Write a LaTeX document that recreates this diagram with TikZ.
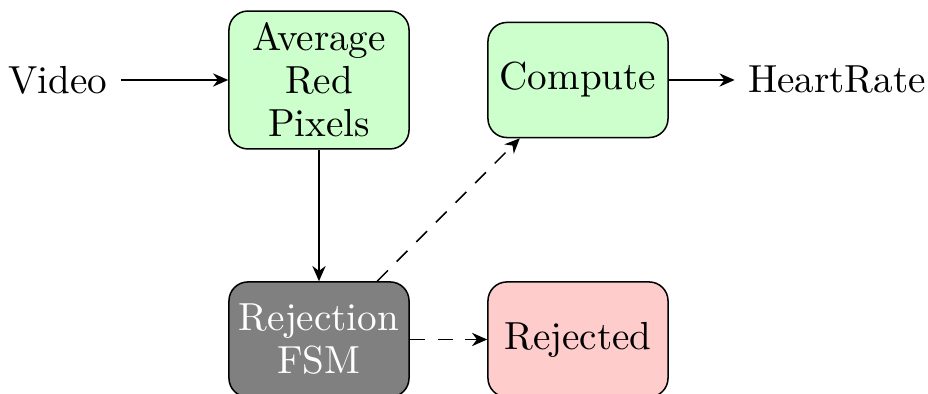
\documentclass[tikz,border=0pt]{standalone}
\usetikzlibrary{arrows.meta}
\begin{document}
\begin{tikzpicture}[x=0.2632pt,y=-0.2632pt,
  every node/.style={font=\fontsize{10.3}{11.3}\selectfont, align=center},
  block/.style={draw, rounded corners=5pt, line width=0.4pt,
    minimum width=47.4pt, inner sep=2pt},
  flow/.style={-{Stealth[length=4pt,width=3.5pt]}, line width=0.4pt},
  dflow/.style={flow, dash pattern=on 4pt off 3.3pt}]
\useasboundingbox (0,0) rectangle (928,394);
\node (video) at (58,80) {Video};
\node[block, fill=green!20, minimum height=36.3pt] (avg) at (319,80) {Average\\Red\\Pixels};
\node[block, fill=green!20, minimum height=30.3pt] (compute) at (578,80) {Compute};
\node (hr) at (837,80) {HeartRate};
\node[block, fill=gray, text=white, minimum height=30.3pt] (fsm) at (319,339.5) {Rejection\\FSM};
\node[block, fill=red!20, minimum height=30.3pt] (rej) at (578,339.5) {Rejected};
\draw[flow] (video) -- (avg);
\draw[flow] (compute) -- (hr);
\draw[flow] (avg) -- (fsm);
\draw[dflow] (fsm) -- (compute);
\draw[dflow] (fsm) -- (rej);
\end{tikzpicture}
\end{document}
